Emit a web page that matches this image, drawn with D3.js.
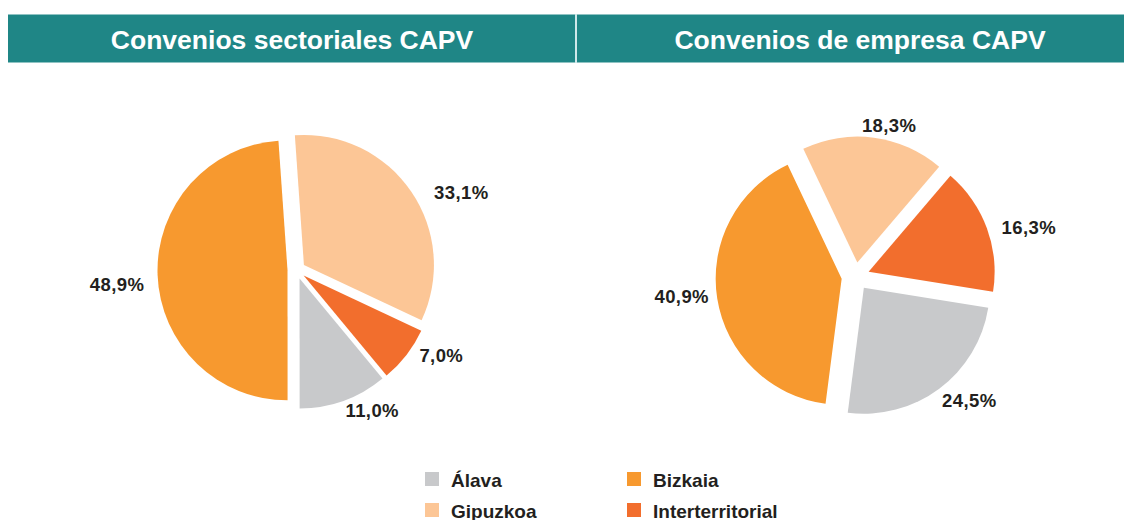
<!DOCTYPE html>
<html>
<head>
<meta charset="utf-8">
<script src="https://cdn.jsdelivr.net/npm/d3@7"></script>
<style>
  html, body { margin: 0; padding: 0; background: #ffffff; }
  svg { display: block; }
</style>
</head>
<body>
<svg id="chart" width="1131" height="520"></svg>
<script>
// ---------- data ----------
const categories = ["Gipuzkoa", "Interterritorial", "Álava", "Bizkaia"];
const titles = ["Convenios sectoriales CAPV", "Convenios de empresa CAPV"];
const sectorialValues = [33.1, 7.0, 11.0, 48.9];
const empresaValues = [18.3, 16.3, 24.5, 40.9];
const legendOrder = ["Álava", "Gipuzkoa", "Bizkaia", "Interterritorial"];

// ---------- style / layout ----------
const colors = {
  "Álava": "#c8c9cb",
  "Gipuzkoa": "#fcc696",
  "Bizkaia": "#f7992f",
  "Interterritorial": "#f26e2d"
};
const textColor = "#231f20";
const headerColor = "#1f8686";

const pies = [
  { values: sectorialValues, cx: 296.5, cy: 270, r: 130, explode: 9, startDeg: -4,
    // label placement: [angle nudge in degrees, radius]
    labels: [[9.3, 182], [-7.3, 168], [-8.4, 160], [-2.5, 180]] },
  { values: empresaValues, cx: 855.5, cy: 276.5, r: 126, explode: 14, startDeg: -25.4,
    labels: [[5, 155], [4.5, 180], [-5.9, 168], [2.3, 175]] }
];

const svg = d3.select("#chart");
const fmt = v => d3.format(".1f")(v).replace(".", ",") + "%";
const rad = d => d * Math.PI / 180;

// ---------- header ----------
const header = svg.append("g");
header.append("rect").attr("x", 8).attr("y", 14).attr("width", 1116).attr("height", 49)
  .attr("fill", headerColor);
header.append("line").attr("x1", 8).attr("x2", 1124).attr("y1", 14.5).attr("y2", 14.5)
  .attr("stroke", "#8fc3c3").attr("stroke-width", 1);
header.append("line").attr("x1", 8).attr("x2", 1124).attr("y1", 62.5).attr("y2", 62.5)
  .attr("stroke", "#8fc3c3").attr("stroke-width", 1);
header.append("rect").attr("x", 575).attr("y", 14).attr("width", 2).attr("height", 49)
  .attr("fill", "#cfe8ea");
header.selectAll("text.title").data(titles).join("text")
  .attr("class", "title")
  .attr("x", (d, i) => i === 0 ? 292 : 860)
  .attr("y", 49)
  .attr("text-anchor", "middle")
  .attr("font-family", "Liberation Sans, Arial, sans-serif")
  .attr("font-weight", "bold")
  .attr("font-size", 26.5)
  .attr("fill", "#ffffff")
  .text(d => d);

// ---------- pies ----------
pies.forEach(p => {
  const start = rad(p.startDeg);
  const pie = d3.pie().sort(null).startAngle(start).endAngle(start + 2 * Math.PI);
  const arcs = pie(p.values);
  const arc = d3.arc().innerRadius(0).outerRadius(p.r);
  const g = svg.append("g").attr("transform", `translate(${p.cx},${p.cy})`);

  g.selectAll("path").data(arcs).join("path")
    .attr("d", arc)
    .attr("fill", (d, i) => colors[categories[i]])
    .attr("transform", d => {
      const a = (d.startAngle + d.endAngle) / 2;
      return `translate(${Math.sin(a) * p.explode},${-Math.cos(a) * p.explode})`;
    });

  g.selectAll("text").data(arcs).join("text")
    .attr("x", (d, i) => {
      const a = (d.startAngle + d.endAngle) / 2 + rad(p.labels[i][0]);
      return Math.sin(a) * p.labels[i][1];
    })
    .attr("y", (d, i) => {
      const a = (d.startAngle + d.endAngle) / 2 + rad(p.labels[i][0]);
      return -Math.cos(a) * p.labels[i][1];
    })
    .attr("dy", "0.35em")
    .attr("text-anchor", "middle")
    .attr("font-family", "Liberation Sans, Arial, sans-serif")
    .attr("font-weight", "bold")
    .attr("font-size", 18.5)
    .attr("letter-spacing", 0.4)
    .attr("fill", textColor)
    .text(d => fmt(d.data));
});

// ---------- legend ----------
const legend = svg.append("g");
const legX = [425, 627];
const legY = [472, 503];
const items = legend.selectAll("g").data(legendOrder).join("g")
  .attr("transform", (d, i) => `translate(${legX[Math.floor(i / 2)]},${legY[i % 2]})`);
items.append("rect").attr("width", 14).attr("height", 14).attr("fill", d => colors[d]);
items.append("text")
  .attr("x", 26).attr("y", 14.5)
  .attr("font-family", "Liberation Sans, Arial, sans-serif")
  .attr("font-weight", "bold")
  .attr("font-size", 19)
  .attr("fill", textColor)
  .text(d => d);
</script>
</body>
</html>
